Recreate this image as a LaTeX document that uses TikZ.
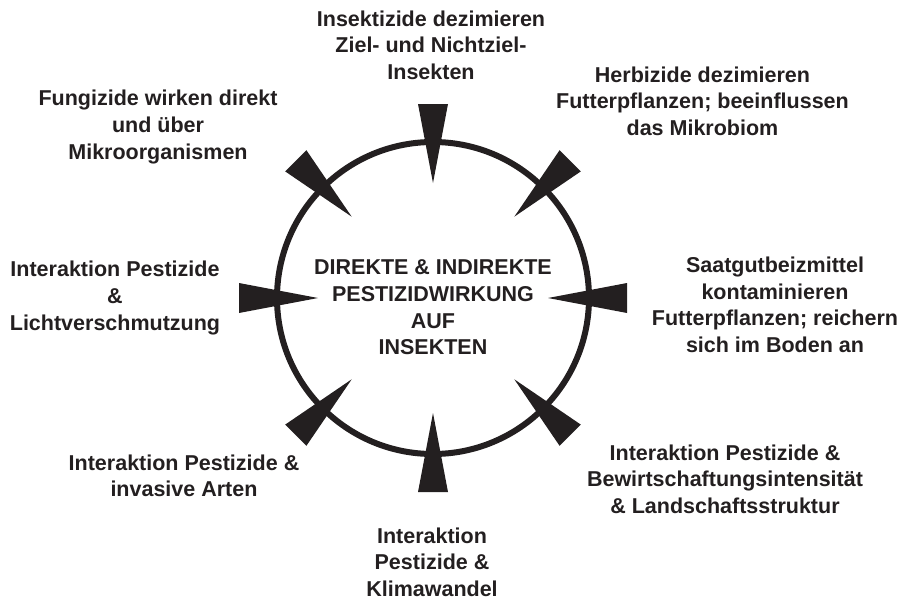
\documentclass[tikz,border=0pt]{standalone}
\usepackage{fontspec}
\setmainfont{Liberation Sans}
\usetikzlibrary{calc}
\definecolor{ink}{HTML}{231F20}
\begin{document}
\begin{tikzpicture}[x=1pt,y=-1pt,
  lbl/.style={font=\bfseries\fontsize{21.5}{26.6}\selectfont, text=ink, align=center, inner sep=0pt},
  wedge/.style={fill=ink, draw=none},
  ring/.style={draw=ink, line width=6pt}]
\useasboundingbox (0,0) rectangle (906,598);
\coordinate (c) at (433,298);
\draw[ring] (c) circle[radius=156];
\foreach \a in {0,45,...,315}{
  \fill[wedge] ($(c)+(\a:115)$) -- ($(c)+(\a:194)+(\a+90:15)$) -- ($(c)+(\a:194)+(\a-90:15)$) -- cycle;
}
\node[lbl] (mid) at (433,307.5) {DIREKTE \& INDIREKTE\\PESTIZIDWIRKUNG\\AUF\\INSEKTEN};
\node[lbl] (t) at (431,45) {Insektizide dezimieren\\Ziel- und Nichtziel-\\Insekten};
\node[lbl] (tr) at (702.5,101) {Herbizide dezimieren\\Futterpflanzen; beeinflussen\\das Mikrobiom};
\node[lbl] (tl) at (158,127) {Fungizide wirken direkt\\und über\\Mikroorganismen};
\node[lbl] (l) at (115,298) {Interaktion Pestizide\\\&\\Lichtverschmutzung};
\node[lbl] (r) at (775,305) {Saatgutbeizmittel\\kontaminieren\\Futterpflanzen; reichern\\sich im Boden an};
\node[lbl] (br) at (725,479) {Interaktion Pestizide \&\\Bewirtschaftungsintensität\\\& Landschaftsstruktur};
\node[lbl] (bl) at (184,476) {Interaktion Pestizide \&\\invasive Arten};
\node[lbl] (b) at (432,562) {Interaktion\\Pestizide \&\\Klimawandel};
\end{tikzpicture}
\end{document}
